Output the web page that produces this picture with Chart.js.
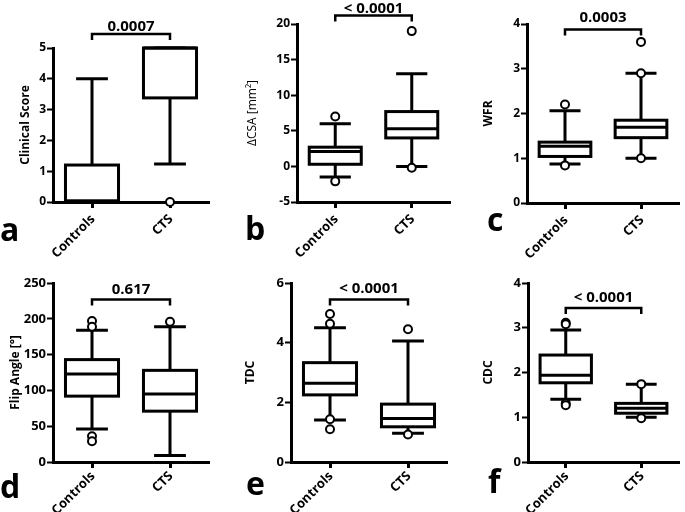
<!DOCTYPE html>
<html>
<head>
<meta charset="utf-8">
<script src="https://cdn.jsdelivr.net/npm/chart.js@4.4.1/dist/chart.umd.min.js"></script>
<style>
  body { margin: 0; background: #fff; }
  #wrap { position: relative; width: 685px; height: 512px; }
  #wrap canvas { position: absolute; }
</style>
</head>
<body>
<div id="wrap"></div>
<script>
const groups = ['Controls', 'CTS'];

// each box: [min, q1, median, q3, max]
const scoreBox = [[0, 0.03, 0.03, 1.2, 4], [1.23, 3.38, 5, 5, 5]];
const scoreOut = [[], [0]];
const csaBox = [[-1.5, 0.3, 2.1, 2.7, 6], [0, 4.0, 5.3, 7.7, 13]];
const csaOut = [[7, -2.1], [19, -0.2]];
const wfrBox = [[0.87, 1.04, 1.27, 1.36, 2.06], [1.0, 1.46, 1.69, 1.85, 2.9]];
const wfrOut = [[2.2, 0.84], [3.6, 2.9, 1.0]];
const flipBox = [[46, 92, 123, 143, 184], [9, 71, 95, 128, 189]];
const flipOut = [[197, 189, 36, 29], [196]];
const tdcBox = [[1.41, 2.25, 2.64, 3.33, 4.5], [0.96, 1.18, 1.46, 1.94, 4.06]];
const tdcOut = [[4.96, 4.63, 1.43, 1.1], [4.45, 0.92]];
const cdcBox = [[1.4, 1.77, 1.94, 2.39, 2.95], [1.0, 1.09, 1.2, 1.31, 1.74]];
const cdcOut = [[3.11, 3.08, 1.31, 1.27], [1.74, 0.98]];
const pValues = ['0.0007', '< 0.0001', '0.0003', '0.617', '< 0.0001', '< 0.0001'];

const FONT = "'Open Sans', 'Noto Sans', sans-serif";

// layout of each panel (canvas position and chart area)
const panels = [
  { letter: 'a', title: 'Clinical Score', box: scoreBox, out: scoreOut, min: 0, max: 5, step: 1,
    x: 0, y: 0, w: 228, h: 262, left: 53, right: 19, top: 48, bottom: 202, tickSize: 12, titleOff: 18,
    brY: 34, txtY: 31, lx: 0, ly: 241, titleBold: true, labOff: 15 },
  { letter: 'b', title: 'ΔCSA [mm²]', box: csaBox, out: csaOut, min: -5, max: 20, step: 5,
    x: 228, y: 0, w: 228, h: 262, left: 69, right: 3, top: 24, bottom: 202, tickSize: 12, titleOff: 17,
    brY: 15.5, txtY: 13, lx: 17, ly: 240, titleBold: false, labOff: 15 },
  { letter: 'c', title: 'WFR', box: wfrBox, out: wfrOut, min: 0, max: 4, step: 1,
    x: 456, y: 0, w: 229, h: 262, left: 71, right: 2, top: 24, bottom: 203, tickSize: 12, titleOff: 25,
    brY: 29.5, txtY: 22, lx: 31, ly: 231, titleBold: true, labOff: 15 },
  { letter: 'd', title: 'Flip Angle [°]', box: flipBox, out: flipOut, min: 0, max: 250, step: 50,
    x: 0, y: 256, w: 228, h: 256, left: 53, right: 19, top: 27, bottom: 206, tickSize: 13, titleOff: 8,
    brY: 43.5, txtY: 38, lx: 0, ly: 242, titleBold: true, labOff: 12 },
  { letter: 'e', title: 'TDC', box: tdcBox, out: tdcOut, min: 0, max: 6, step: 2,
    x: 228, y: 256, w: 228, h: 256, left: 63, right: 9, top: 27, bottom: 206, tickSize: 13, titleOff: 15,
    brY: 43.5, txtY: 37, lx: 18, ly: 239, titleBold: true, labOff: 12 },
  { letter: 'f', title: 'CDC', box: cdcBox, out: cdcOut, min: 0, max: 4, step: 1,
    x: 456, y: 256, w: 229, h: 256, left: 72, right: 1, top: 27, bottom: 206, tickSize: 13, titleOff: 25,
    brY: 52, txtY: 46, lx: 32, ly: 237, titleBold: true, labOff: 12 },
];

const boxPlugin = {
  id: 'boxParts',
  beforeDatasetsDraw(chart) {
    // whiskers and caps
    const p = chart.options.plugins.boxParts.panel;
    const ys = chart.scales.y;
    const ctx = chart.ctx;
    const bars = chart.getDatasetMeta(0).data;
    ctx.save();
    ctx.strokeStyle = '#000';
    ctx.lineWidth = 3;
    p.box.forEach((b, i) => {
      const cx = bars[i].x;
      const half = bars[i].width * 0.3;
      const yMin = ys.getPixelForValue(b[0]);
      const yMax = ys.getPixelForValue(b[4]);
      ctx.beginPath();
      ctx.moveTo(cx, yMin);
      ctx.lineTo(cx, ys.getPixelForValue(b[1]));
      ctx.moveTo(cx, ys.getPixelForValue(b[3]));
      ctx.lineTo(cx, yMax);
      ctx.moveTo(cx - half, yMin);
      ctx.lineTo(cx + half, yMin);
      ctx.moveTo(cx - half, yMax);
      ctx.lineTo(cx + half, yMax);
      ctx.stroke();
    });
    ctx.restore();
  },
  afterDatasetDraw(chart, args) {
    if (args.index !== 0) return;
    // box outline (stroke centred on quartiles) and median
    const p = chart.options.plugins.boxParts.panel;
    const ys = chart.scales.y;
    const ctx = chart.ctx;
    const bars = chart.getDatasetMeta(0).data;
    ctx.save();
    ctx.strokeStyle = '#000';
    ctx.lineWidth = 3;
    p.box.forEach((b, i) => {
      const half = bars[i].width / 2;
      const yq1 = ys.getPixelForValue(b[1]);
      const yq3 = ys.getPixelForValue(b[3]);
      const my = ys.getPixelForValue(b[2]);
      ctx.strokeRect(bars[i].x - half, yq3, half * 2, yq1 - yq3);
      ctx.beginPath();
      ctx.moveTo(bars[i].x - half, my);
      ctx.lineTo(bars[i].x + half, my);
      ctx.stroke();
    });
    ctx.restore();
  },
  afterDraw(chart) {
    const p = chart.options.plugins.boxParts.panel;
    const xs = chart.scales.x;
    const ctx = chart.ctx;
    const x1 = xs.getPixelForValue(0);
    const x2 = xs.getPixelForValue(1);
    ctx.save();
    ctx.fillStyle = '#000';
    // rotated category labels
    ctx.font = 'bold 13px ' + FONT;
    ctx.textAlign = 'right';
    ctx.textBaseline = 'middle';
    chart.data.labels.forEach((lab, i) => {
      const px = xs.getPixelForValue(i);
      ctx.save();
      ctx.translate(px + 1, chart.chartArea.bottom + p.labOff);
      ctx.rotate(-Math.PI / 4);
      ctx.fillText(lab, 0, 0);
      ctx.restore();
    });
    // significance bracket
    ctx.strokeStyle = '#000';
    ctx.lineWidth = 2.5;
    ctx.beginPath();
    ctx.moveTo(x1, p.brY + 6);
    ctx.lineTo(x1, p.brY);
    ctx.lineTo(x2, p.brY);
    ctx.lineTo(x2, p.brY + 6);
    ctx.stroke();
    ctx.font = 'bold 15px ' + FONT;
    ctx.textAlign = 'center';
    ctx.textBaseline = 'alphabetic';
    ctx.fillText(p.pValue, (x1 + x2) / 2, p.txtY);
    // panel letter
    ctx.font = 'bold 32px ' + FONT;
    ctx.textAlign = 'left';
    ctx.fillText(p.letter, p.lx, p.ly);
    ctx.restore();
  }
};

const wrap = document.getElementById('wrap');

panels.forEach((p, k) => {
  p.pValue = pValues[k];
  const cv = document.createElement('canvas');
  cv.width = p.w;
  cv.height = p.h;
  cv.style.left = p.x + 'px';
  cv.style.top = p.y + 'px';
  cv.style.width = p.w + 'px';
  cv.style.height = p.h + 'px';
  wrap.appendChild(cv);

  const outPoints = [];
  p.out.forEach((list, i) => {
    list.forEach((v) => outPoints.push({ x: groups[i], y: v }));
  });

  new Chart(cv, {
    data: {
      labels: groups,
      datasets: [
        {
          type: 'bar',
          data: p.box.map((b) => [b[1], b[3]]),
          backgroundColor: '#fff',
          borderWidth: 0,
          barPercentage: 0.68,
          categoryPercentage: 1,
          order: 2,
        },
        {
          type: 'line',
          data: outPoints,
          showLine: false,
          pointRadius: 4,
          pointBackgroundColor: '#fff',
          pointBorderColor: '#000',
          pointBorderWidth: 2,
          clip: false,
          order: 0,
        },
      ],
    },
    options: {
      responsive: false,
      animation: false,
      layout: { padding: { left: 0, right: p.right, top: p.top, bottom: 0 } },
      plugins: {
        legend: { display: false },
        tooltip: { enabled: false },
        boxParts: { panel: p },
      },
      scales: {
        x: {
          type: 'category',
          offset: true,
          afterFit: (s) => { s.height = p.h - p.bottom; },
          grid: {
            offset: false,
            drawOnChartArea: false,
            drawTicks: true,
            tickLength: 6,
            tickWidth: 3,
            tickColor: '#000',
            color: '#000',
          },
          border: { color: '#000', width: 3 },
          ticks: { display: false },
        },
        y: {
          min: p.min,
          max: p.max,
          afterFit: (s) => { s.width = p.left; },
          grid: {
            drawOnChartArea: false,
            drawTicks: true,
            tickLength: 6,
            tickWidth: 2,
            tickColor: '#000',
            color: '#000',
          },
          border: { color: '#000', width: 3 },
          ticks: {
            stepSize: p.step,
            color: '#000',
            padding: 1,
            font: { family: FONT, size: p.tickSize, weight: 'bold' },
          },
          title: {
            display: true,
            text: p.title,
            color: '#000',
            padding: { top: p.titleOff, bottom: 0 },
            font: { family: FONT, size: 12, weight: p.titleBold ? 'bold' : 'normal' },
          },
        },
      },
    },
    plugins: [boxPlugin],
  });
});
</script>
</body>
</html>
